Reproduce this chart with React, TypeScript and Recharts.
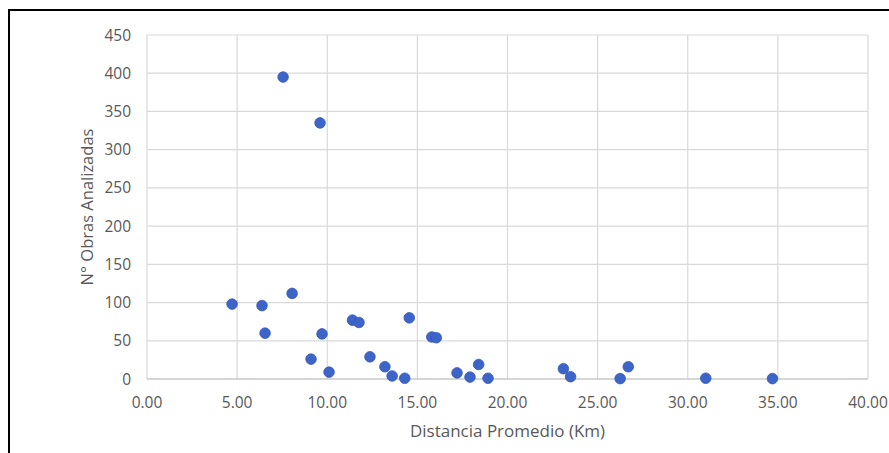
import React from "react";
import {
  ScatterChart,
  Scatter,
  XAxis,
  YAxis,
  CartesianGrid,
  Label,
} from "recharts";

// distancia promedio (km) por cada punto
const distances = [
  4.72, 6.38, 6.55, 7.55, 8.05, 9.1, 9.71, 9.6, 10.1, 11.4, 11.76, 12.37, 13.2,
  13.6, 14.3, 14.55, 15.8, 16.05, 17.2, 17.92, 18.4, 18.92, 23.1, 23.5, 26.25,
  26.7, 31.0, 34.7,
];

// n° de obras analizadas
const obras = [
  98, 96, 60, 395, 112, 26, 59, 335, 9, 77, 74, 29, 16, 4, 1, 80, 55, 54, 8,
  2.5, 19, 1, 13.5, 3, 0.5, 16, 1, 0.5,
];

const xTicks = [0, 5, 10, 15, 20, 25, 30, 35, 40];
const yTicks = [0, 50, 100, 150, 200, 250, 300, 350, 400, 450];

const points = distances.map((d, i) => ({ x: d, y: obras[i] }));

const FONT = "'Open Sans', 'Liberation Sans', sans-serif";
const TICK = { fill: "#595959", fontSize: 15.5, fontFamily: FONT };

const Dot = (props: any) => {
  const { cx, cy } = props;
  return <circle cx={cx} cy={cy} r={5.3} fill="#3d64c8" stroke="#3558b8" strokeWidth={0.8} />;
};

export default function App() {
  return (
    <div style={{ position: "relative", width: 889, height: 453, overflow: "hidden" }}>
      {/* no body margin, no scrollbars: page coords = chart coords */}
      <style>{"html,body{margin:0;padding:0;overflow:hidden;}"}</style>
      <div
        style={{
          position: "absolute",
          left: 8,
          top: 9,
          width: 881,
          height: 444,
          borderLeft: "2px solid #000",
          borderTop: "2px solid #000",
          boxSizing: "border-box",
        }}
      />
      <div style={{ position: "absolute", left: 0, top: 0 }}>
        <ScatterChart
          width={889}
          height={453}
          margin={{ top: 35, right: 21, left: 0, bottom: 0 }}
        >
          <CartesianGrid stroke="#d9d9d9" strokeWidth={1.2} />
          <XAxis
            type="number"
            dataKey="x"
            domain={[0, 40]}
            ticks={xTicks}
            height={74}
            tickLine={false}
            tickSize={0}
            tickMargin={18}
            axisLine={{ stroke: "#bfbfbf", strokeWidth: 1.2 }}
            tick={TICK}
            tickFormatter={(v: number) => v.toFixed(2)}
          >
            <Label
              value="Distancia Promedio (Km)"
              position="insideBottom"
              offset={16}
              style={{ fill: "#595959", fontSize: 17, fontFamily: FONT }}
            />
          </XAxis>
          <YAxis
            type="number"
            dataKey="y"
            domain={[0, 450]}
            ticks={yTicks}
            width={147}
            tickLine={false}
            tickSize={0}
            tickMargin={16}
            axisLine={false}
            tick={TICK}
          >
            <Label
              value="N° Obras Analizadas"
              position="insideLeft"
              angle={-90}
              offset={87}
              style={{ fill: "#595959", fontSize: 16.5, fontFamily: FONT, textAnchor: "middle" }}
            />
          </YAxis>
          <Scatter data={points} shape={Dot} isAnimationActive={false} />
        </ScatterChart>
      </div>
    </div>
  );
}
